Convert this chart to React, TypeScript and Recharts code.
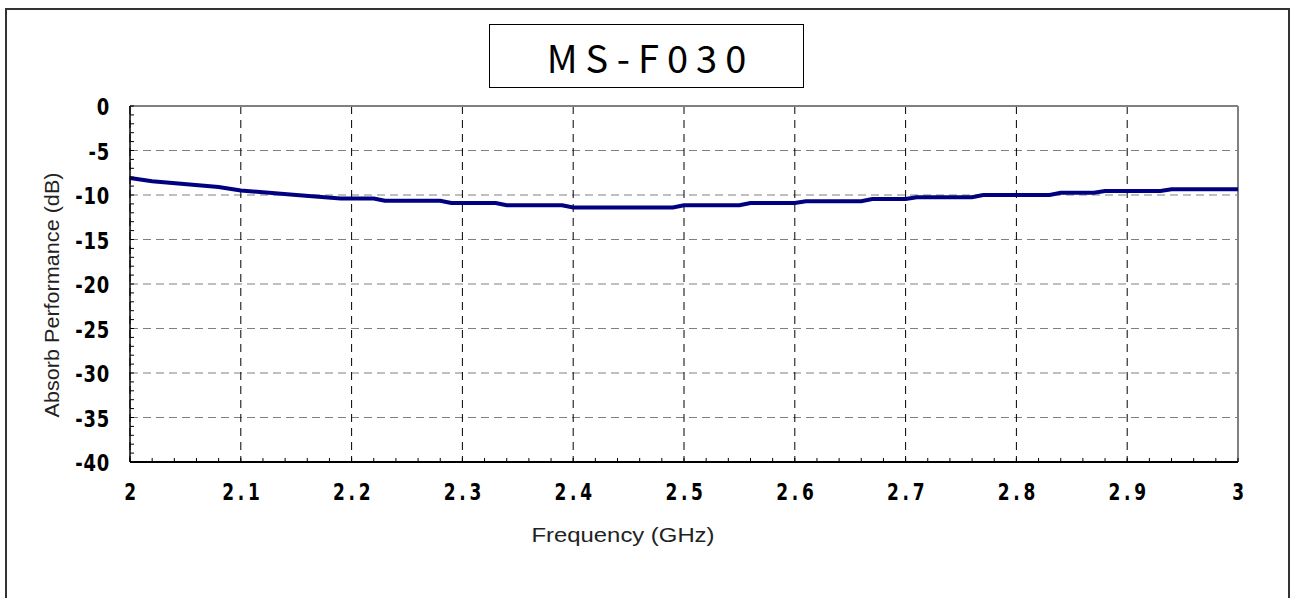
import { LineChart, Line, XAxis, YAxis, CartesianGrid, ReferenceLine, Label } from 'recharts';

const freqs = [
  2.0, 2.02, 2.08, 2.1, 2.15, 2.19, 2.22, 2.23, 2.28, 2.29, 2.33, 2.34, 2.39, 2.4, 2.49, 2.5, 2.55,
  2.56, 2.6, 2.61, 2.66, 2.67, 2.7, 2.71, 2.76, 2.77, 2.83, 2.84, 2.87, 2.88, 2.93, 2.94, 3.0,
];
const absorb = [
  -8.1, -8.45, -9.1, -9.5, -10.0, -10.4, -10.4, -10.65, -10.65, -10.9, -10.9, -11.15, -11.15, -11.4,
  -11.4, -11.15, -11.15, -10.9, -10.9, -10.7, -10.7, -10.45, -10.45, -10.25, -10.25, -10.0, -10.0,
  -9.75, -9.75, -9.55, -9.55, -9.35, -9.35,
];
const xTicks = [2, 2.1, 2.2, 2.3, 2.4, 2.5, 2.6, 2.7, 2.8, 2.9, 3];
const yTicks = [0, -5, -10, -15, -20, -25, -30, -35, -40];
// minor ticks every 0.02 GHz / 1 dB
const xMinor = Array.from({ length: 51 }, (_, i) => +(2 + i * 0.02).toFixed(2));
const yMinor = Array.from({ length: 41 }, (_, i) => -i);

const X_DOMAIN = [2, 3];
const Y_DOMAIN = [-40, 0];

const data = freqs.map((f, i) => ({ f, v: absorb[i] }));

const tickFont = '"DejaVu Sans", sans-serif';
const labelFont = '"Liberation Sans", sans-serif';

const isMajorX = (v: number) => xTicks.some((t) => Math.abs(t - v) < 1e-6);
const isMajorY = (v: number) => yTicks.includes(v);

const XTick = ({ x, y, payload }: any) => (
  <g>
    <line x1={x} y1={y} x2={x} y2={y - 4} stroke="#000" />
    {isMajorX(payload.value) && (
      <text
        transform={`translate(${x + 2},${y + 38}) scale(0.74,1)`}
        textAnchor="middle"
        fontFamily={tickFont}
        fontWeight="bold"
        fontSize={23}
        letterSpacing={5}
        fill="#000"
      >
        {String(payload.value)}
      </text>
    )}
  </g>
);

const YTick = ({ x, y, payload }: any) => (
  <g>
    <line x1={x} y1={y} x2={x + 4} y2={y} stroke="#000" />
    {isMajorY(payload.value) && (
      <text
        transform={`translate(${x - 20},${y + 9}) scale(0.78,1)`}
        textAnchor="end"
        fontFamily={tickFont}
        fontWeight="bold"
        fontSize={23}
        letterSpacing={1}
        fill="#000"
      >
        {String(payload.value)}
      </text>
    )}
  </g>
);

// grid only at the major ticks
const vGen = ({ offset }: any) =>
  xTicks.map((t) => offset.left + ((t - X_DOMAIN[0]) / (X_DOMAIN[1] - X_DOMAIN[0])) * offset.width);
const hGen = ({ offset }: any) =>
  yTicks.map((t) => offset.top + ((Y_DOMAIN[1] - t) / (Y_DOMAIN[1] - Y_DOMAIN[0])) * offset.height);

const App = () => {
  return (
    <div style={{ position: 'fixed', left: 0, top: 0, width: 1291, height: 598, overflow: 'hidden', background: '#fff' }}>
      <div style={{ position: 'absolute', left: 5, top: 8, width: 1281, height: 640, border: '2px solid #333' }} />
      <div
        style={{
          position: 'absolute',
          left: 489,
          top: 24,
          width: 315,
          height: 64,
          border: '1.5px solid #000',
          display: 'flex',
          alignItems: 'center',
          justifyContent: 'center',
          fontFamily: '"Noto Sans CJK JP", sans-serif',
          fontSize: 38,
          letterSpacing: 8,
          paddingLeft: 8,
          boxSizing: 'border-box',
          color: '#000',
        }}
      >
        MS-F030
      </div>
      <LineChart
        width={1291}
        height={598}
        data={data}
        margin={{ top: 106, right: 53, bottom: 56, left: 60 }}
        style={{ position: 'absolute', left: 0, top: 0 }}
      >
        <CartesianGrid horizontal={true} vertical={false} stroke="#808080" strokeDasharray="8 5" horizontalCoordinatesGenerator={hGen} />
        <CartesianGrid horizontal={false} vertical={true} stroke="#000" strokeDasharray="8 6" verticalCoordinatesGenerator={vGen} />
        <XAxis
          dataKey="f"
          type="number"
          domain={X_DOMAIN}
          ticks={xMinor}
          interval={0}
          tick={<XTick />}
          tickLine={false}
          tickSize={0}
          tickMargin={0}
          axisLine={{ stroke: '#000', strokeWidth: 2 }}
          height={80}
        >
          <Label
            content={() => (
              <text x={623} y={542} textAnchor="middle" fontFamily={labelFont} fontSize={20} fill="#222" textLength={183} lengthAdjust="spacingAndGlyphs">
                Frequency (GHz)
              </text>
            )}
          />
        </XAxis>
        <YAxis
          type="number"
          domain={Y_DOMAIN}
          ticks={yMinor}
          interval={0}
          tick={<YTick />}
          tickLine={false}
          tickSize={0}
          tickMargin={0}
          axisLine={{ stroke: '#000', strokeWidth: 1.5 }}
          width={70}
        >
          <Label
            content={() => (
              <text x={59} y={295} transform="rotate(-90 59 295)" textAnchor="middle" fontFamily={labelFont} fontSize={20} fill="#222" textLength={245} lengthAdjust="spacingAndGlyphs">
                Absorb Performance (dB)
              </text>
            )}
          />
        </YAxis>
        <ReferenceLine y={0} stroke="#808080" strokeWidth={2} />
        <ReferenceLine x={3} stroke="#808080" strokeWidth={2} />
        <Line type="linear" dataKey="v" stroke="#000080" strokeWidth={4} dot={false} isAnimationActive={false} />
      </LineChart>
    </div>
  );
};

export default App;
